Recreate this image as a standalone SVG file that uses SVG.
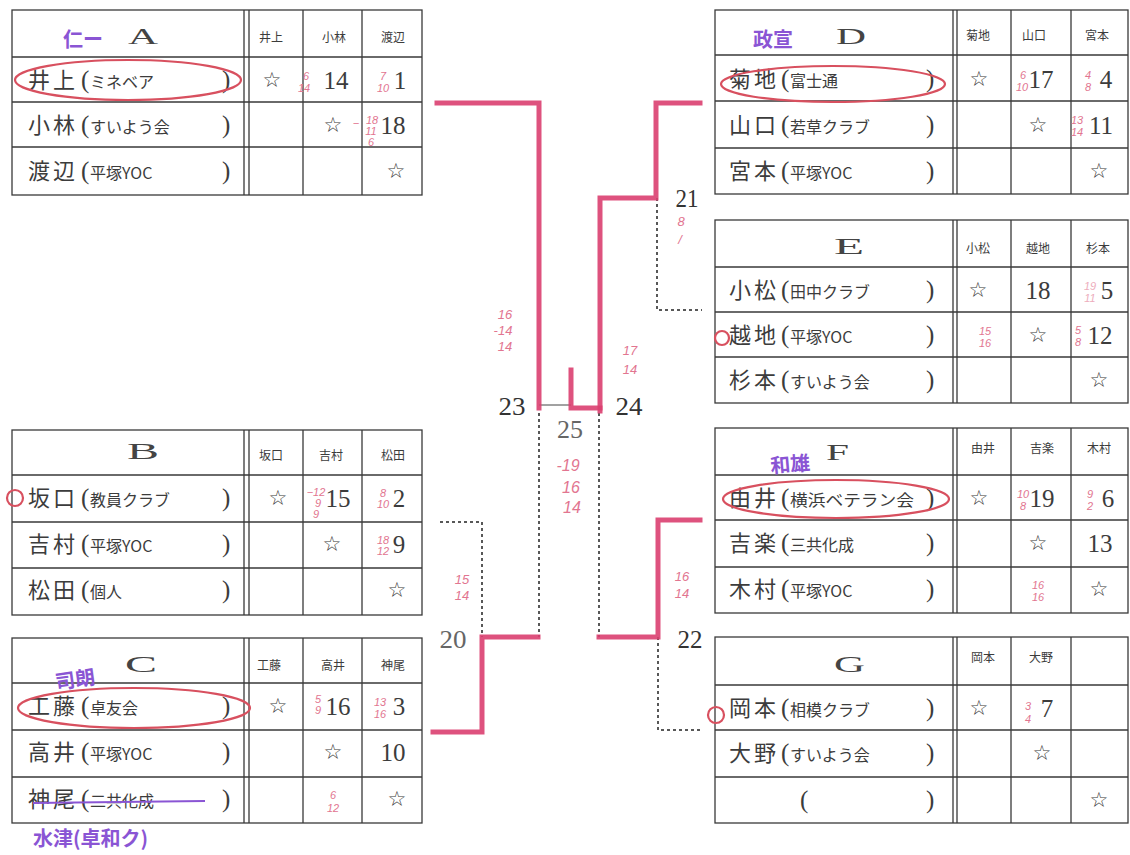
<svg xmlns="http://www.w3.org/2000/svg" width="1130" height="855" viewBox="0 0 1130 855">
<style>
.bg{fill:#ffffff}
.tb{fill:none;stroke:#3a3a3a;stroke-width:1.3}
.nm{font-family:"Noto Sans CJK JP","Noto Sans",sans-serif;font-size:22px;fill:#3c3c3c;letter-spacing:3px}
.cl{font-family:"Noto Sans CJK JP","Noto Sans",sans-serif;font-size:16px;fill:#3c3c3c}
.pa{font-family:"Liberation Serif",serif;font-size:25px;fill:#3c3c3c}
.hd{font-family:"Noto Sans CJK JP","Noto Sans",sans-serif;font-size:12px;fill:#3c3c3c;text-anchor:middle}
.gl{font-family:"Liberation Serif",serif;font-size:24px;fill:#444}
.st{font-family:"DejaVu Sans",sans-serif;font-size:21px;fill:#3c3c3c;text-anchor:middle}
.nu{font-family:"Liberation Serif",serif;font-size:25px;fill:#3c3c3c;text-anchor:middle}
.pk{font-family:"Liberation Sans",sans-serif;font-style:italic;font-size:11px;fill:#e27590;text-anchor:middle}
.pkl{font-family:"Liberation Sans",sans-serif;font-style:italic;font-size:13px;fill:#e27590;text-anchor:middle}
.pu{font-family:"Noto Sans CJK JP","Noto Sans",sans-serif;font-size:20px;fill:#8a55d4;font-weight:bold}
.el{fill:none;stroke:#d8505f;stroke-width:2.2}
.rl{fill:none;stroke:#da3f70;stroke-width:5;stroke-linejoin:miter;stroke-linecap:square;opacity:0.9}
.ds{fill:none;stroke:#222;stroke-width:1.5;stroke-dasharray:3 3}
.tn{fill:none;stroke:#444;stroke-width:1}
.bn{font-family:"Liberation Serif",serif;font-size:26px;fill:#333;text-anchor:middle}
</style>
<rect class="bg" x="0" y="0" width="1130" height="855"/>

<!-- Table A -->
<g id="table-A">
<rect class="tb" x="12" y="10" width="410" height="185"/>
<path class="tb" d="M12 57H422M12 102H422M12 147H422M244 10V195M249 10V195M303 10V195M362 10V195"/>
<text class="pu" x="63" y="47">仁ー</text>
<text class="gl" x="128" y="44" textLength="30" lengthAdjust="spacingAndGlyphs">A</text>
<text class="hd" x="271" y="42">井上</text><text class="hd" x="334" y="42">小林</text><text class="hd" x="393" y="42">渡辺</text>
<text class="nm" x="28" y="88">井上</text><text class="pa" x="81" y="88">(</text><text class="cl" x="90" y="88">ミネベア</text><text class="pa" x="222" y="88">)</text>
<text class="nm" x="28" y="133">小林</text><text class="pa" x="81" y="133">(</text><text class="cl" x="90" y="133">すいよう会</text><text class="pa" x="222" y="133">)</text>
<text class="nm" x="28" y="179">渡辺</text><text class="pa" x="81" y="179">(</text><text class="cl" x="90" y="179">平塚YOC</text><text class="pa" x="222" y="179">)</text>
<text class="st" x="272" y="87">☆</text><text class="nu" x="336" y="89">14</text><text class="nu" x="400" y="89">1</text>
<text class="st" x="333" y="132">☆</text><text class="nu" x="393" y="134">18</text>
<text class="st" x="396" y="178">☆</text>
<text class="pk" x="306" y="80">6</text><text class="pk" x="304" y="92">14</text>
<text class="pk" x="383" y="80">7</text><text class="pk" x="383" y="92">10</text>
<text class="pk" x="356" y="127">−</text>
<text class="pk" x="372" y="124">18</text><text class="pk" x="371" y="135">11</text><text class="pk" x="371" y="146">6</text>
<ellipse class="el" cx="128" cy="80" rx="113" ry="20"/>
</g>

<!-- Table B -->
<g id="table-B">
<rect class="tb" x="12" y="430" width="410" height="185"/>
<path class="tb" d="M12 475H422M12 522H422M12 568H422M244 430V615M249 430V615M303 430V615M362 430V615"/>
<text class="gl" x="127" y="459" textLength="32" lengthAdjust="spacingAndGlyphs">B</text>
<text class="hd" x="271" y="460">坂口</text><text class="hd" x="331" y="460">吉村</text><text class="hd" x="393" y="460">松田</text>
<text class="nm" x="28" y="506">坂口</text><text class="pa" x="81" y="506">(</text><text class="cl" x="90" y="506">教員クラブ</text><text class="pa" x="222" y="506">)</text>
<text class="nm" x="28" y="552">吉村</text><text class="pa" x="81" y="552">(</text><text class="cl" x="90" y="552">平塚YOC</text><text class="pa" x="222" y="552">)</text>
<text class="nm" x="28" y="598">松田</text><text class="pa" x="81" y="598">(</text><text class="cl" x="90" y="598">個人</text><text class="pa" x="222" y="598">)</text>
<text class="st" x="278" y="505">☆</text><text class="nu" x="338" y="507">15</text><text class="nu" x="399" y="507">2</text>
<text class="st" x="332" y="551">☆</text><text class="nu" x="399" y="553">9</text>
<text class="st" x="397" y="597">☆</text>
<text class="pk" x="316" y="496">−12</text><text class="pk" x="318" y="507">9</text><text class="pk" x="316" y="518">9</text>
<text class="pk" x="383" y="497">8</text><text class="pk" x="383" y="508">10</text>
<text class="pk" x="383" y="544">18</text><text class="pk" x="383" y="555">12</text>
<circle class="el" cx="15" cy="498" r="8"/>
</g>

<!-- Table C -->
<g id="table-C">
<rect class="tb" x="12" y="638" width="410" height="185"/>
<path class="tb" d="M12 683H422M12 730H422M12 777H422M244 638V823M249 638V823M303 638V823M362 638V823"/>
<text class="pu" x="55" y="686" transform="rotate(-8 80 678)">司朗</text>
<text class="gl" x="125" y="672" textLength="32" lengthAdjust="spacingAndGlyphs">C</text>
<text class="hd" x="269" y="670">工藤</text><text class="hd" x="333" y="670">高井</text><text class="hd" x="393" y="670">神尾</text>
<text class="nm" x="28" y="714">工藤</text><text class="pa" x="81" y="714">(</text><text class="cl" x="90" y="714">卓友会</text><text class="pa" x="222" y="714">)</text>
<text class="nm" x="28" y="760">高井</text><text class="pa" x="81" y="760">(</text><text class="cl" x="90" y="760">平塚YOC</text><text class="pa" x="222" y="760">)</text>
<text class="nm" x="28" y="807">神尾</text><text class="pa" x="81" y="807">(</text><text class="cl" x="90" y="807">二共化成</text><text class="pa" x="222" y="807">)</text>
<text class="st" x="278" y="713">☆</text><text class="nu" x="338" y="715">16</text><text class="nu" x="399" y="715">3</text>
<text class="st" x="333" y="759">☆</text><text class="nu" x="393" y="761">10</text>
<text class="st" x="397" y="806">☆</text>
<text class="pk" x="318" y="703">5</text><text class="pk" x="318" y="714">9</text>
<text class="pk" x="380" y="706">13</text><text class="pk" x="380" y="718">16</text>
<text class="pk" x="333" y="799">6</text><text class="pk" x="333" y="812">12</text>
<ellipse class="el" cx="134" cy="708" rx="116" ry="20"/>
<path d="M33 803L205 801" stroke="#8a55d4" stroke-width="2" fill="none"/>
<text class="pu" x="33" y="846">水津(卓和ク)</text>
</g>

<!-- Table D -->
<g id="table-D">
<rect class="tb" x="715" y="10" width="413" height="184"/>
<path class="tb" d="M715 55H1128M715 101H1128M715 148H1128M953 10V194M957 10V194M1011 10V194M1071 10V194"/>
<text class="pu" x="753" y="47">政宣</text>
<text class="gl" x="836" y="44" textLength="30" lengthAdjust="spacingAndGlyphs">D</text>
<text class="hd" x="978" y="40">菊地</text><text class="hd" x="1034" y="40">山口</text><text class="hd" x="1097" y="40">宮本</text>
<text class="nm" x="729" y="87">菊地</text><text class="pa" x="781" y="87">(</text><text class="cl" x="790" y="87">富士通</text><text class="pa" x="926" y="87">)</text>
<text class="nm" x="729" y="133">山口</text><text class="pa" x="781" y="133">(</text><text class="cl" x="790" y="133">若草クラブ</text><text class="pa" x="926" y="133">)</text>
<text class="nm" x="729" y="179">宮本</text><text class="pa" x="781" y="179">(</text><text class="cl" x="790" y="179">平塚YOC</text><text class="pa" x="926" y="179">)</text>
<text class="st" x="979" y="86">☆</text><text class="nu" x="1041" y="88">17</text><text class="nu" x="1106" y="88">4</text>
<text class="st" x="1038" y="132">☆</text><text class="nu" x="1101" y="134">11</text>
<text class="st" x="1099" y="178">☆</text>
<text class="pk" x="1023" y="79">6</text><text class="pk" x="1022" y="91">10</text>
<text class="pk" x="1088" y="79">4</text><text class="pk" x="1088" y="91">8</text>
<text class="pk" x="1077" y="124">13</text><text class="pk" x="1077" y="136">14</text>
<ellipse class="el" cx="833" cy="84" rx="112" ry="18"/>
</g>

<!-- Table E -->
<g id="table-E">
<rect class="tb" x="715" y="220" width="413" height="183"/>
<path class="tb" d="M715 267H1128M715 312H1128M715 357H1128M953 220V403M957 220V403M1011 220V403M1071 220V403"/>
<text class="gl" x="834" y="254" textLength="30" lengthAdjust="spacingAndGlyphs">E</text>
<text class="hd" x="978" y="253">小松</text><text class="hd" x="1038" y="253">越地</text><text class="hd" x="1098" y="253">杉本</text>
<text class="nm" x="729" y="298">小松</text><text class="pa" x="781" y="298">(</text><text class="cl" x="790" y="298">田中クラブ</text><text class="pa" x="926" y="298">)</text>
<text class="nm" x="729" y="343">越地</text><text class="pa" x="781" y="343">(</text><text class="cl" x="790" y="343">平塚YOC</text><text class="pa" x="926" y="343">)</text>
<text class="nm" x="729" y="388">杉本</text><text class="pa" x="781" y="388">(</text><text class="cl" x="790" y="388">すいよう会</text><text class="pa" x="926" y="388">)</text>
<text class="st" x="978" y="297">☆</text><text class="nu" x="1038" y="299">18</text><text class="nu" x="1107" y="299">5</text>
<text class="st" x="1038" y="342">☆</text><text class="nu" x="1100" y="344">12</text>
<text class="st" x="1099" y="387">☆</text>
<text class="pk" x="1090" y="290" opacity="0.6">19</text><text class="pk" x="1090" y="302" opacity="0.6">11</text>
<text class="pk" x="985" y="335">15</text><text class="pk" x="985" y="347">16</text>
<text class="pk" x="1078" y="334">5</text><text class="pk" x="1078" y="346">8</text>
<circle class="el" cx="722" cy="338" r="7"/>
</g>

<!-- Table F -->
<g id="table-F">
<rect class="tb" x="715" y="428" width="413" height="185"/>
<path class="tb" d="M715 475H1128M715 520H1128M715 567H1128M953 428V613M957 428V613M1011 428V613M1071 428V613"/>
<text class="pu" x="770" y="471" transform="rotate(-5 795 462)">和雄</text>
<text class="gl" x="826" y="460" textLength="23" lengthAdjust="spacingAndGlyphs">F</text>
<text class="hd" x="983" y="453">由井</text><text class="hd" x="1042" y="453">吉楽</text><text class="hd" x="1099" y="453">木村</text>
<text class="nm" x="729" y="506">由井</text><text class="pa" x="781" y="506">(</text><text class="cl" x="790" y="506" textLength="124" lengthAdjust="spacingAndGlyphs">横浜ベテラン会</text><text class="pa" x="926" y="506">)</text>
<text class="nm" x="729" y="551">吉楽</text><text class="pa" x="781" y="551">(</text><text class="cl" x="790" y="551">三共化成</text><text class="pa" x="926" y="551">)</text>
<text class="nm" x="729" y="597">木村</text><text class="pa" x="781" y="597">(</text><text class="cl" x="790" y="597">平塚YOC</text><text class="pa" x="926" y="597">)</text>
<text class="st" x="979" y="505">☆</text><text class="nu" x="1042" y="507">19</text><text class="nu" x="1108" y="507">6</text>
<text class="st" x="1038" y="550">☆</text><text class="nu" x="1100" y="552">13</text>
<text class="st" x="1099" y="596">☆</text>
<text class="pk" x="1023" y="498">10</text><text class="pk" x="1023" y="510">8</text>
<text class="pk" x="1090" y="498">9</text><text class="pk" x="1090" y="510">2</text>
<text class="pk" x="1038" y="589">16</text><text class="pk" x="1038" y="601">16</text>
<ellipse class="el" cx="836" cy="499" rx="113" ry="19"/>
</g>

<!-- Table G -->
<g id="table-G">
<rect class="tb" x="715" y="637" width="413" height="186"/>
<path class="tb" d="M715 685H1128M715 730H1128M715 777H1128M953 637V823M957 637V823M1011 637V823M1071 637V823"/>
<text class="gl" x="834" y="672" textLength="31" lengthAdjust="spacingAndGlyphs">G</text>
<text class="hd" x="983" y="662">岡本</text><text class="hd" x="1041" y="662">大野</text>
<text class="nm" x="729" y="716">岡本</text><text class="pa" x="781" y="716">(</text><text class="cl" x="790" y="716">相模クラブ</text><text class="pa" x="926" y="716">)</text>
<text class="nm" x="729" y="761">大野</text><text class="pa" x="781" y="761">(</text><text class="cl" x="790" y="761">すいよう会</text><text class="pa" x="926" y="761">)</text>
<text class="pa" x="800" y="808">(</text><text class="pa" x="926" y="808">)</text>
<text class="st" x="979" y="715">☆</text><text class="nu" x="1047" y="717">7</text>
<text class="st" x="1042" y="760">☆</text>
<text class="st" x="1099" y="807">☆</text>
<text class="pk" x="1028" y="710">3</text><text class="pk" x="1028" y="723">4</text>
<circle class="el" cx="716" cy="715" r="8"/>
</g>

<!-- Connectors -->
<g id="connectors">
<path class="ds" d="M657 198V310H702"/>
<path class="ds" d="M539 413V637"/>
<path class="ds" d="M599 413V637"/>
<path class="ds" d="M440 522H482V637"/>
<path class="ds" d="M658 637V730H700"/>
<path class="tn" d="M539 405H571"/>
<path class="rl" d="M437 103H539V408"/>
<path class="rl" d="M571 370V408H600"/>
<path class="rl" d="M700 103H656V198H600V411"/>
<path class="rl" d="M538 637H482V732H433"/>
<path class="rl" d="M599 637H658V520H700"/>
<text class="bn" x="687" y="207" textLength="23" lengthAdjust="spacingAndGlyphs">21</text>
<text class="bn" x="512" y="415" textLength="27" lengthAdjust="spacingAndGlyphs">23</text>
<text class="bn" x="629" y="415" textLength="27" lengthAdjust="spacingAndGlyphs">24</text>
<text class="bn" x="570" y="438" style="fill:#666" textLength="26" lengthAdjust="spacingAndGlyphs">25</text>
<text class="bn" x="453" y="648" style="fill:#666" textLength="27" lengthAdjust="spacingAndGlyphs">20</text>
<text class="bn" x="690" y="648" textLength="25" lengthAdjust="spacingAndGlyphs">22</text>
<text class="pkl" x="681" y="226">8</text><text class="pkl" x="680" y="244">/</text>
<text class="pkl" x="505" y="319">16</text><text class="pkl" x="503" y="335">-14</text><text class="pkl" x="505" y="351">14</text>
<text class="pkl" x="630" y="355">17</text><text class="pkl" x="630" y="374">14</text>
<text class="pkl" x="568" y="471" style="font-size:16px">-19</text><text class="pkl" x="571" y="493" style="font-size:16px">16</text><text class="pkl" x="572" y="513" style="font-size:16px">14</text>
<text class="pkl" x="462" y="584">15</text><text class="pkl" x="462" y="600">14</text>
<text class="pkl" x="682" y="581">16</text><text class="pkl" x="682" y="598">14</text>
</g>
</svg>
